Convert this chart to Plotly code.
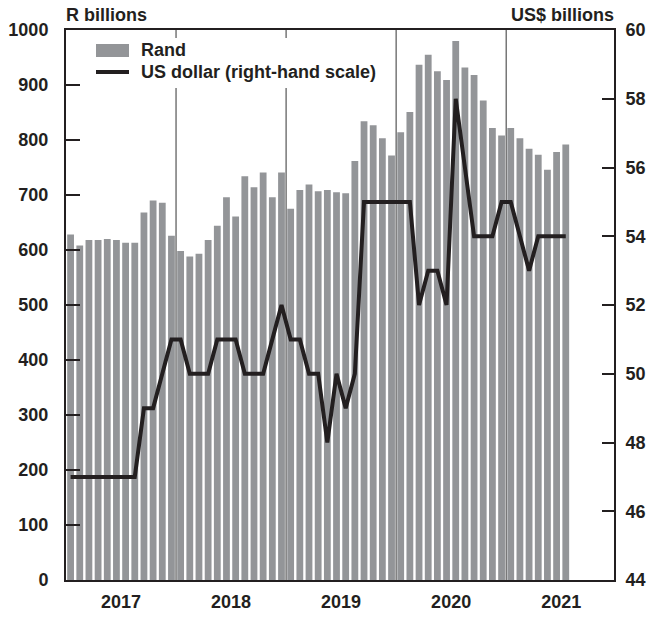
import plotly.graph_objects as go

# ---- data ----
years = [2017] * 12 + [2018] * 12 + [2019] * 12 + [2020] * 12 + [2021] * 7
months = list(range(1, 13)) * 4 + list(range(1, 8))

rand_bn = [
    628, 608, 618, 618, 620, 618, 613, 613, 668, 690, 686, 626,
    598, 588, 593, 618, 644, 696, 661, 734, 714, 741, 696, 741,
    675, 709, 719, 707, 709, 705, 703, 762, 834, 827, 803, 772,
    814, 851, 937, 955, 925, 909, 980, 932, 918, 872, 822, 808,
    822, 803, 784, 773, 746, 778, 792,
]
usd_bn = [
    47, 47, 47, 47, 47, 47, 47, 47, 49, 49, 50, 51,
    51, 50, 50, 50, 51, 51, 51, 50, 50, 50, 51, 52,
    51, 51, 50, 50, 48, 50, 49, 50, 55, 55, 55, 55,
    55, 55, 52, 53, 53, 52, 58, 56, 54, 54, 54, 55,
    55, 54, 53, 54, 54, 54, 54,
]
year_labels = ["2017", "2018", "2019", "2020", "2021"]
left_ticks = [0, 100, 200, 300, 400, 500, 600, 700, 800, 900, 1000]
right_ticks = [44, 46, 48, 50, 52, 54, 56, 58, 60]
series_names = ["Rand", "US dollar (right-hand scale)"]

# ---- derived positions ----
idx = list(range(len(rand_bn)))
first_year = years[0]
year_centers = [(int(y) - first_year) * 12 + 5.5 for y in year_labels]
boundaries = [i - 0.5 for i in range(1, len(years)) if years[i] != years[i - 1]]

W, H = 658, 617
ML, MR, MT, MB = 66, 44, 30, 37
PW, PH = W - ML - MR, H - MT - MB
px_per_month = 9.17
x_end = -0.5 + PW / px_per_month

def px(xs):  # screen x -> paper
    return (xs - ML) / PW

def py(ys):  # screen y -> paper
    return 1 - (ys - MT) / PH

FONT = "Liberation Sans"
BAR = "#939598"
INK = "#231f20"
TXT = dict(family=FONT, size=18, color=INK, weight="bold")

fig = go.Figure()
fig.add_trace(go.Bar(
    x=idx, y=rand_bn, name=series_names[0],
    marker=dict(color=BAR, line=dict(width=0)), yaxis="y", showlegend=False,
))
fig.add_trace(go.Scatter(
    x=idx, y=usd_bn, name=series_names[1], mode="lines",
    line=dict(color=INK, width=4), yaxis="y2", showlegend=False,
))

shapes = [
    dict(type="line", xref="x", yref="paper", x0=b, x1=b, y0=0, y1=1,
         line=dict(color="#333333", width=1), layer="below")
    for b in boundaries
]
# legend box (white background covering the year lines) and swatches
shapes += [
    dict(type="rect", xref="paper", yref="paper",
         x0=px(80), x1=px(395), y0=py(88), y1=py(38),
         fillcolor="white", line=dict(width=0), layer="above"),
    dict(type="rect", xref="paper", yref="paper",
         x0=px(96), x1=px(129), y0=py(57), y1=py(44),
         fillcolor=BAR, line=dict(width=0), layer="above"),
    dict(type="line", xref="paper", yref="paper",
         x0=px(96), x1=px(129), y0=py(72), y1=py(72),
         line=dict(color=INK, width=4), layer="above"),
]

annotations = [
    dict(text="R billions", xref="paper", yref="paper", x=0, y=1,
         xanchor="left", yanchor="middle", yshift=15, xshift=-2, showarrow=False,
         font=TXT),
    dict(text="US$ billions", xref="paper", yref="paper", x=1, y=1,
         xanchor="right", yanchor="middle", yshift=15, xshift=2, showarrow=False,
         font=TXT),
    dict(text=series_names[0], xref="paper", yref="paper", x=px(139), y=py(50.5),
         xanchor="left", yanchor="middle", showarrow=False, font=TXT),
    dict(text=series_names[1], xref="paper", yref="paper", x=px(139), y=py(72),
         xanchor="left", yanchor="middle", showarrow=False, font=TXT),
]

fig.update_layout(
    width=W, height=H,
    margin=dict(l=ML, r=MR, t=MT, b=MB),
    paper_bgcolor="white", plot_bgcolor="white",
    bargap=0.26,
    showlegend=False,
    shapes=shapes,
    annotations=annotations,
    xaxis=dict(
        range=[-0.5, x_end], tickmode="array", tickvals=year_centers,
        ticktext=year_labels, ticks="", showgrid=False, zeroline=False,
        showline=True, mirror=True, linecolor=INK, linewidth=2,
        tickfont=TXT, ticklabelstandoff=4, automargin=False,
    ),
    yaxis=dict(
        range=[0, 1000], tickmode="array", tickvals=left_ticks,
        ticks="inside", ticklen=14, tickwidth=2, tickcolor=INK,
        showgrid=False, zeroline=False, showline=True, linecolor=INK, linewidth=2,
        tickfont=TXT, ticklabelstandoff=12, automargin=False,
    ),
    yaxis2=dict(
        range=[44, 60], tickmode="array", tickvals=right_ticks,
        overlaying="y", side="right", anchor="x",
        ticks="inside", ticklen=12, tickwidth=2, tickcolor=INK,
        showgrid=False, zeroline=False, showline=True, linecolor=INK, linewidth=2,
        tickfont=TXT, ticklabelstandoff=6, automargin=False,
    ),
)

# remove the page's default 8px body margin so the figure fills the window
fig.write_html(
    "out.html",
    config={"displayModeBar": False},
    post_script="document.body.style.margin='0';",
)
